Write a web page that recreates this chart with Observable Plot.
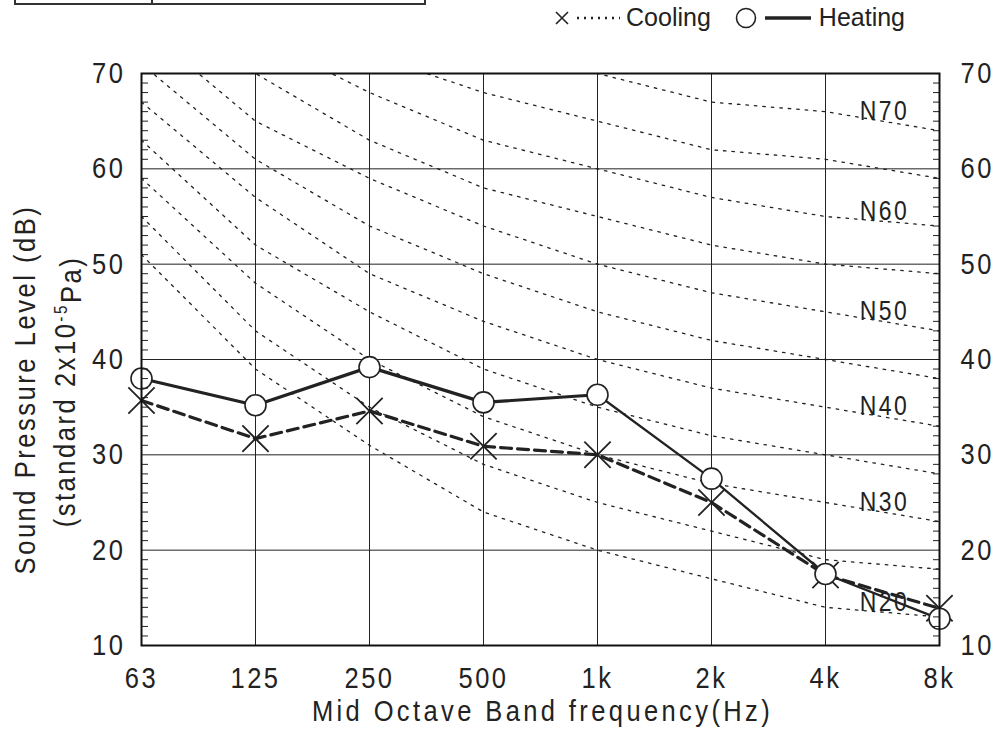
<!DOCTYPE html>
<html><head><meta charset="utf-8">
<script src="https://cdn.jsdelivr.net/npm/d3@7"></script>
<script src="https://cdn.jsdelivr.net/npm/@observablehq/plot@0.6"></script>
<style>
body{margin:0;background:#fff;}
#wrap{position:relative;width:998px;height:737px;overflow:hidden;}
#wrap svg.chart{letter-spacing:3px;}
#legend{position:absolute;top:3px;right:93px;display:flex;align-items:center;font-family:Arial,"Liberation Sans",sans-serif;font-size:25px;color:#222;white-space:nowrap;}
#legend svg{display:block;}
#tbl{position:absolute;left:14px;top:-20px;width:408px;height:23px;border:2px solid #333;border-top:none;}
#tbl div{position:absolute;left:135px;top:0;height:100%;border-left:2px solid #333;}
</style></head><body>
<div id="wrap">
  <div id="tbl"><div></div></div>
  <div id="legend">
    <svg width="16" height="16"><path d="M2,2L14,14M14,2L2,14" stroke="#222" stroke-width="1.6"/></svg>
    <svg width="56" height="10"><line x1="7" y1="5" x2="50" y2="5" stroke="#222" stroke-width="2.4" stroke-dasharray="2,5"/></svg>
    <span>Cooling</span>
    <span style="display:inline-block;width:24px"></span>
    <svg width="22" height="22"><circle cx="11" cy="11" r="9.5" fill="#fff" stroke="#222" stroke-width="1.6"/></svg>
    <svg width="62" height="10"><line x1="8" y1="5" x2="54" y2="5" stroke="#222" stroke-width="3.5"/></svg>
    <span>Heating</span>
  </div>
</div>
<script>
// band labels
const bands = ["63", "125", "250", "500", "1k", "2k", "4k", "8k"];
// measured spectra (dB)
const heating = [38.0, 35.2, 39.2, 35.5, 36.3, 27.5, 17.5, 12.8];
const cooling = [35.7, 31.7, 34.6, 30.9, 30.0, 25.0, 17.4, 13.9];
// noise rating curves (dB per band)
const nr20 = [51, 39, 31, 24, 20, 17, 14, 13];
const nr25 = [55, 43, 35, 29, 25, 22, 19, 18];
const nr30 = [59, 48, 40, 34, 30, 27, 25, 23];
const nr35 = [63, 52, 45, 39, 35, 32, 30, 28];
const nr40 = [67, 57, 49, 44, 40, 37, 35, 33];
const nr45 = [71, 61, 54, 49, 45, 42, 40, 38];
const nr50 = [75, 65, 59, 54, 50, 47, 45, 43];
const nr55 = [79, 70, 63, 58, 55, 52, 50, 49];
const nr60 = [83, 74, 68, 63, 60, 57, 55, 54];
const nr65 = [87, 78, 72, 68, 65, 62, 61, 59];
const nr70 = [91, 83, 77, 73, 70, 67, 66, 64];
const nrCurves = {20: nr20, 25: nr25, 30: nr30, 35: nr35, 40: nr40, 45: nr45, 50: nr50, 55: nr55, 60: nr60, 65: nr65, 70: nr70};
const labelledNR = [20, 30, 40, 50, 60, 70];
// axis ticks
const yTicks = [10, 20, 30, 40, 50, 60, 70];
const yGrid = [20, 30, 40, 50, 60];
const yMinor = d3.range(11, 70).filter(v => v % 10 !== 0);

const idx = bands.map((_, i) => i);
const nrRows = Object.entries(nrCurves).flatMap(([nr, vals]) => vals.map((v, i) => ({nr: +nr, i, v})));
const nrLabels = labelledNR.map(nr => ({nr, v: (nrCurves[nr][6] + nrCurves[nr][7]) / 2}));
const heatRows = heating.map((v, i) => ({i, v}));
const coolRows = cooling.map((v, i) => ({i, v}));

const FONT = "'Liberation Sans', Arial, sans-serif";
const ink = "#222";
const XTITLE = "Mid Octave Band frequency(Hz)";

const chart = Plot.plot({
  width: 998, height: 737,
  marginLeft: 141, marginRight: 59, marginTop: 73, marginBottom: 92,
  style: {fontFamily: FONT, color: ink, background: "#fff"},
  x: {type: "linear", domain: [0, 7]},
  y: {domain: [10, 70]},
  marks: [
    Plot.gridY(yGrid, {stroke: ink, strokeOpacity: 1, strokeWidth: 1}),
    Plot.gridX(idx.slice(1, 7), {stroke: ink, strokeOpacity: 1, strokeWidth: 1}),
    Plot.line(nrRows, {x: "i", y: "v", z: "nr", stroke: ink, strokeWidth: 1.3, strokeDasharray: "2.5,6", clip: true}),
    Plot.text(nrLabels, {x: () => 6.5, y: "v", dx: 2, dy: -10, text: d => "N" + d.nr, fontSize: 27, fill: ink}),
    Plot.line(coolRows, {x: "i", y: "v", stroke: ink, strokeWidth: 3.2, strokeDasharray: "11,6"}),
    Plot.line(heatRows.slice(0, 5), {x: "i", y: "v", stroke: ink, strokeWidth: 3.2}),
    Plot.line(heatRows.slice(4), {x: "i", y: "v", stroke: ink, strokeWidth: 2.3}),
    Plot.dot(coolRows, {x: "i", y: "v", symbol: "times", r: 12, stroke: ink, strokeWidth: 1.8}),
    Plot.dot(heatRows, {x: "i", y: "v", symbol: "circle", r: 10.5, fill: "#fff", stroke: ink, strokeWidth: 1.6}),
    Plot.axisY({anchor: "left", ticks: yMinor, tickSize: -7, tickFormat: () => "", label: null, stroke: ink}),
    Plot.axisY({anchor: "right", ticks: yMinor, tickSize: -7, tickFormat: () => "", label: null, stroke: ink}),
    Plot.axisY({anchor: "left", ticks: yTicks, tickSize: 0, tickPadding: 16, fontSize: 30, label: null}),
    Plot.axisY({anchor: "right", ticks: yTicks, tickSize: 0, tickPadding: 21, fontSize: 30, label: null}),
    Plot.axisX({ticks: idx, tickFormat: i => bands[i], tickSize: 0, tickPadding: 21, fontSize: 30, label: null}),
    Plot.text([XTITLE], {frameAnchor: "bottom", dx: 2, dy: 75, fontSize: 30, fill: ink}),
    Plot.text(["Sound Pressure Level (dB)"], {frameAnchor: "left", textAnchor: "middle", dx: -116, dy: 30, rotate: -90, fontSize: 30, fill: ink}),
    Plot.text(["(standard 2x10-5Pa)"], {frameAnchor: "left", textAnchor: "middle", dx: -76, dy: 32, rotate: -90, fontSize: 30, fill: ink}),
    Plot.frame({stroke: "#111", strokeWidth: 2})
  ]
});
chart.classList.add("chart");
document.getElementById("wrap").appendChild(chart);

d3.select(chart).selectAll("text").each(function() {
  const t = d3.select(this);
  // superscript for the exponent
  if (t.text() === "(standard 2x10-5Pa)") {
    t.text(null);
    t.append("tspan").text("(standard 2x10");
    t.append("tspan").attr("dy", "-0.45em").attr("font-size", "0.6em").text("-5");
    t.append("tspan").attr("dy", "0.45em").text("Pa)");
  }
  if (t.text() === XTITLE) t.style("letter-spacing", "4px");
});
// condensed lettering, as in the reference
d3.select(chart).selectAll("text").each(function() {
  const tr = this.getAttribute("transform");
  if (tr) this.setAttribute("transform", tr + " scale(0.85,1)");
});
</script>
</body></html>
